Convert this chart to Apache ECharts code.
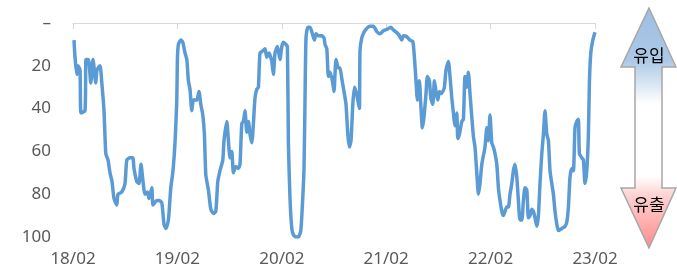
<!DOCTYPE html>
<html>
<head>
<meta charset="utf-8">
<script src="https://cdn.jsdelivr.net/npm/echarts@6/dist/echarts.min.js"></script>
<style>html,body{margin:0;padding:0;background:#fff}#c{width:677px;height:278px}</style>
</head>
<body>
<div id="c"></div>
<script>
// week index since 2018/02 (x) and percentile value (y, 0 = 유입 top, 100 = 유출 bottom)
const weeks = [0.5,1,1.9,2.5,3.5,4,6,6.5,7.7,8.9,10,11.4,12,13.5,14.4,15.5,16.4,17.5,18.5,19.5,20.5,21.9,22.5,24.4,26,26.9,28.5,29.9,30.5,31.9,33,34,35,36,37.2,38,39.4,40,41.9,43,44.4,45.5,46.5,47.7,48.9,50,51,51.9,52.2,52.7,53.9,54.9,56,56.9,57.7,58.5,59.4,60.2,61.9,63,63.9,64.9,65.7,66.4,67.7,68.9,70.2,71.4,72.4,73.5,74.9,75.5,76.9,77.7,78.5,79.4,80.2,81.4,82.7,83.5,84.4,85.2,86,86.9,87.7,88.5,89.4,90.2,91,91.9,92.7,93.5,94.9,96,96.9,98,99.4,100.2,101,102.2,103.5,104.4,105.2,106.5,107.2,107.7,108.5,109.4,110.2,111.5,112.7,113.9,114.7,115.5,116,116.5,117.4,118.5,119.7,120.7,121.5,122.7,124.4,125.5,126,126.9,127.7,128.5,129.7,130.5,131.5,132.7,133.5,134.4,135.5,136.5,137.4,138.2,139,139.9,140.7,141.5,142.4,143.2,143.5,144.4,145.7,146.9,148.2,150.2,151.9,153.5,155.2,156.9,158.9,160.2,161.9,163.2,164.4,165.2,166.9,168.5,169.9,170.7,171.5,172.2,173.2,173.9,174.7,175.5,176.5,177.2,178.2,178.9,179.9,180.7,181.5,182.4,183.2,184,184.9,185.7,186.5,187.7,188.5,189.4,190.2,191,191.9,192.4,193.2,194.4,195.2,196,196.9,197.7,198.5,199.4,200.2,201,201.9,202.7,203.5,204.4,205.2,206,206.9,207.7,208.5,209.4,210.2,211,211.9,212.7,213.5,214.4,215.2,216,216.9,217.7,218.5,219.4,220.2,221,221.9,222.7,223.5,224.4,225.2,226,226.9,227.7,228.5,229.4,230.2,231,231.9,232.7,233.5,234.4,235.2,236,236.9,237.7,238.5,239.4,240.2,241,241.9,242.7,244.4,246,246.9,247.7,248.5,249.4,250.2,251,251.9,252.7,253.2,254.4,255.2,256,256.9,257.7,258.2,258.9,259.9,261];
const values = [8,16,24,20,22,42,41,17,17,28,17,28,22,20,28,41,61,64,70,74,82,85,80,79,75,64,63,63,68,74,75,66,74,80,79,82,77,85,83,83,84,94,96,92,77,69,56,36,17,10,8,9,14,17,27,31,41,36,36,32,38,43,52,71,78,87,89,88,74,69,64,55,46,55,63,60,70,67,68,66,47,46,41,51,46,52,56,47,35,31,30,14,13,12,16,14,18,24,14,11,17,11,9,10,11,56,82,96,99,100,100,97,85,68,36,7,2,2,5,8,5,6,6,7,10,12,25,23,27,32,17,21,21,26,32,38,52,58,55,38,30,32,36,40,13,7,4,2.5,1.5,1.5,4,5,3.6,3,2,3.3,4.5,6,8,6,6.4,8,8.6,16,27,36,27,38,49,44,33,25,27,35,38,27,32,36,32,33,32,30,22,18,25,35,42,48,42,54,52,46,45,25,30,23,33,44,53,58,70,80,75,66,62,58,49,55,43,56,58,61,66,77,83,88,90,88,86,86,80,75,69,66,72,83,92,92,83,77,78,91,90,87,88,91,95,90,75,61,52,41,52,55,69,75,80,88,94,97,96,95,93,86,72,68,69,49,46,45,61,63,64,75,69,52,28,14,8,4.3];
const xTickLabels = ['18/02','19/02','20/02','21/02','22/02','23/02'];
const yTickLabels = ['–','20','40','60','80','100'];
const seriesData = weeks.map((w, i) => [w, values[i]]);

const chart = echarts.init(document.getElementById('c'), null, {renderer: 'canvas'});
const FONT = '"Noto Sans", "Open Sans", sans-serif';
chart.setOption({
  animation: false,
  backgroundColor: '#ffffff',
  grid: {left: 73, right: 82, top: 23, bottom: 41, containLabel: false},
  xAxis: {
    type: 'value', min: 0, max: 261, interval: 52.2,
    axisLine: {show: true, lineStyle: {color: '#d9d9d9', width: 1}},
    axisTick: {show: true, length: 6, lineStyle: {color: '#d9d9d9'}},
    splitLine: {show: false},
    axisLabel: {
      color: '#595959', fontSize: 17, fontFamily: FONT, margin: 14,
      showMinLabel: true, showMaxLabel: true,
      formatter: v => xTickLabels[Math.round(v / 52.2)] || ''
    }
  },
  yAxis: {
    type: 'value', inverse: true, min: 0, max: 100, interval: 20,
    axisLine: {show: false}, axisTick: {show: false}, splitLine: {show: false},
    axisLabel: {
      color: '#595959', fontSize: 17, fontFamily: FONT, margin: 22,
      formatter: v => yTickLabels[Math.round(v / 20)]
    }
  },
  series: [{
    type: 'line', data: seriesData, showSymbol: false, smooth: 0.2,
    lineStyle: {color: '#5b9bd5', width: 3.5},
    itemStyle: {color: '#5b9bd5'}
  }],
  graphic: [
    {
      type: 'polygon',
      shape: {points: [[649,8],[676,67],[662,67],[662,188],[676,188],[649,248],[621,188],[635,188],[635,67],[621,67]]},
      style: {
        stroke: '#a6a6a6', lineWidth: 1.5,
        fill: new echarts.graphic.LinearGradient(0, 0, 0, 1, [
          {offset: 0, color: '#9cbfe2'},
          {offset: 0.22, color: '#acc9e6'},
          {offset: 0.4, color: '#ffffff'},
          {offset: 0.7, color: '#ffffff'},
          {offset: 0.77, color: '#ffd6d6'},
          {offset: 1, color: '#ff8a8a'}
        ])
      }
    },
    {type: 'text', style: {text: '유입', x: 649, y: 56, align: 'center', verticalAlign: 'middle', fill: '#000', font: '17px "Noto Sans CJK KR", sans-serif'}},
    {type: 'text', style: {text: '유출', x: 649, y: 205, align: 'center', verticalAlign: 'middle', fill: '#000', font: '17px "Noto Sans CJK KR", sans-serif'}}
  ]
});
</script>
</body>
</html>
